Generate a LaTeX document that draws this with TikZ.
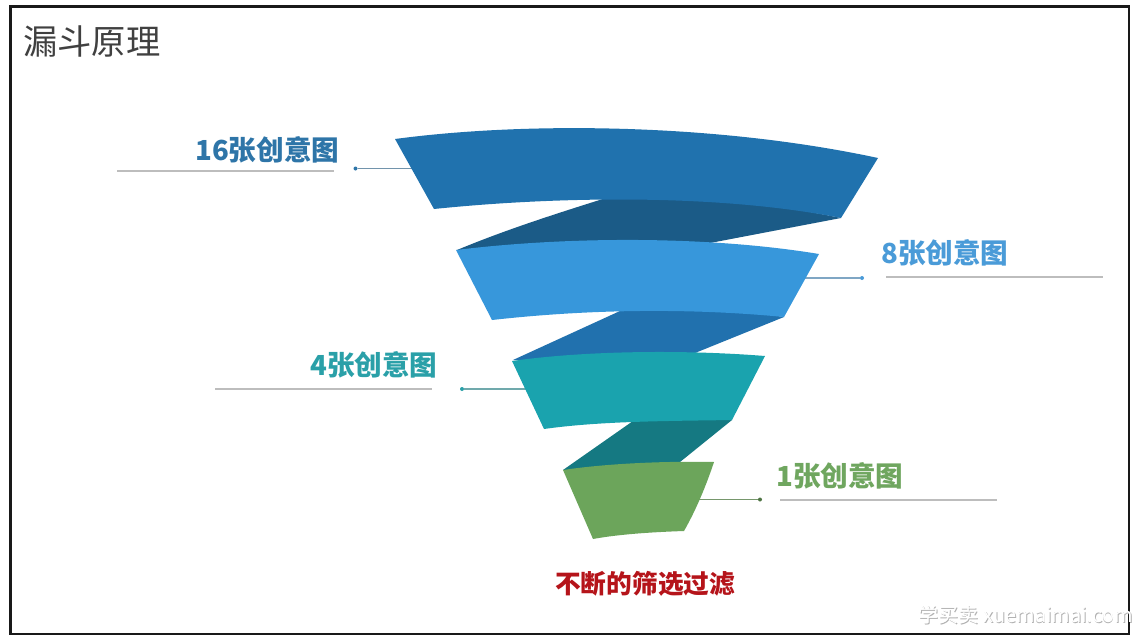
\documentclass[tikz,border=0pt]{standalone}
\usepackage{fontspec}
\newfontfamily\cjk{Noto Sans CJK SC}
\definecolor{bandA}{HTML}{2072AE}
\definecolor{darkA}{HTML}{1B5B87}
\definecolor{bandB}{HTML}{3797DB}
\definecolor{darkB}{HTML}{2171AE}
\definecolor{bandC}{HTML}{1AA3AE}
\definecolor{darkC}{HTML}{157982}
\definecolor{bandD}{HTML}{6CA55B}
\definecolor{txtA}{HTML}{2E75A8}
\definecolor{txtB}{HTML}{4A9BD8}
\definecolor{txtC}{HTML}{2AA0A8}
\definecolor{txtD}{HTML}{6FA65F}
\definecolor{redtxt}{HTML}{B5141A}
\definecolor{rulegray}{HTML}{BDBDBD}
\newcommand{\wmtext}{学买卖 xuemaimai.com}
\tikzset{
  x=1pt,y=-1pt,
  lbl/.style={font=\cjk\bfseries\fontsize{27.6}{30}\selectfont,inner sep=0pt},
  dotnode/.style={circle,inner sep=0pt,minimum size=4pt},
  rulenode/.style={inner sep=0pt,minimum size=0pt},
  leader/.style={line width=1.2pt},
  grayrule/.style={rulegray,line width=1.3pt}
}
\begin{document}
\begin{tikzpicture}
\useasboundingbox (0,0) rectangle (1140,643);
\fill[white] (0,0) rectangle (1140,643);
\draw[black!90,line width=2.4pt] (10.5,6.5) rectangle (1129,634);
\node[anchor=west,inner sep=0pt,text=black!75,font=\cjk\fontsize{34.3}{36}\selectfont] (title) at (23,41) {漏斗原理};

% connectors
\node[dotnode,fill=txtA] (d1) at (355.5,168.5) {};
\coordinate (b1) at (420,168.5);
\draw[leader,txtA!60!gray!80] (d1) -- (b1);
\node[dotnode,fill=txtB] (d2) at (862,278) {};
\coordinate (b2) at (800,278);
\draw[leader,txtB!60!gray!80] (d2) -- (b2);
\node[dotnode,fill=txtC] (d3) at (462,389) {};
\coordinate (b3) at (532,389);
\draw[leader,txtC!60!gray!80] (d3) -- (b3);
\node[dotnode,fill=txtD!70!black] (d4) at (760,499.5) {};
\coordinate (b4) at (692,499.5);
\draw[leader,txtD!60!gray] (d4) -- (b4);

% dark inner strips
\fill[darkA] (457,250) .. controls (505,230) and (555,214) .. (606,198) .. controls (690,196) and (770,203) .. (841,218) -- (710,243) -- (640,250) -- cycle;
\fill[darkB] (513,360) -- (620,311) .. controls (680,307) and (735,309) .. (784,317) -- (695,353) -- (640,360) -- cycle;
\fill[darkC] (563,470) -- (633,421) .. controls (670,418) and (705,418) .. (732,420) -- (680,462) -- (640,470) -- cycle;

% bands
\fill[bandA] (395,139) .. controls (530,121) and (720,124) .. (878,158) -- (841,218) .. controls (720,194) and (560,196) .. (434,209) -- cycle;
\fill[bandB] (456,250) .. controls (570,236) and (710,236) .. (819,254) -- (784,317) .. controls (690,308) and (590,309) .. (492,320) -- cycle;
\fill[bandC] (512,361) .. controls (590,350) and (690,350) .. (765,356) -- (732,420) .. controls (670,421) and (600,421) .. (544,429) -- cycle;
\fill[bandD] (563,470) .. controls (610,463) and (670,461) .. (714,462) .. controls (706,486) and (696,510) .. (684,531) .. controls (655,532) and (620,534) .. (593,539) -- cycle;

% rules and labels
\node[rulenode] (r1a) at (117,171) {}; \node[rulenode] (r1b) at (334,171) {};
\draw[grayrule] (r1a) -- (r1b);
\node[rulenode] (r2a) at (886,277) {}; \node[rulenode] (r2b) at (1103,277) {};
\draw[grayrule] (r2a) -- (r2b);
\node[rulenode] (r3a) at (215,389) {}; \node[rulenode] (r3b) at (432,389) {};
\draw[grayrule] (r3a) -- (r3b);
\node[rulenode] (r4a) at (780,500) {}; \node[rulenode] (r4b) at (997,500) {};
\draw[grayrule] (r4a) -- (r4b);

\node[lbl,anchor=west,text=txtA] (l1) at (195,150) {16张创意图};
\node[lbl,anchor=west,text=txtB] (l2) at (881,253) {8张创意图};
\node[lbl,anchor=west,text=txtC] (l3) at (310,365) {4张创意图};
\node[lbl,anchor=west,text=txtD] (l4) at (776,476) {1张创意图};
\node[anchor=west,inner sep=0pt,text=redtxt,font=\cjk\bfseries\fontsize{25.7}{28}\selectfont] (foot) at (555,584) {不断的筛选过滤};

% watermark
\node[anchor=east,inner sep=0pt,font=\cjk\fontsize{20}{22}\selectfont] (wm) at (1133,615)
  {\rlap{\color{black!30}\kern0.7pt\raisebox{-0.7pt}{\wmtext}}\color{white}\wmtext};
\end{tikzpicture}
\end{document}
